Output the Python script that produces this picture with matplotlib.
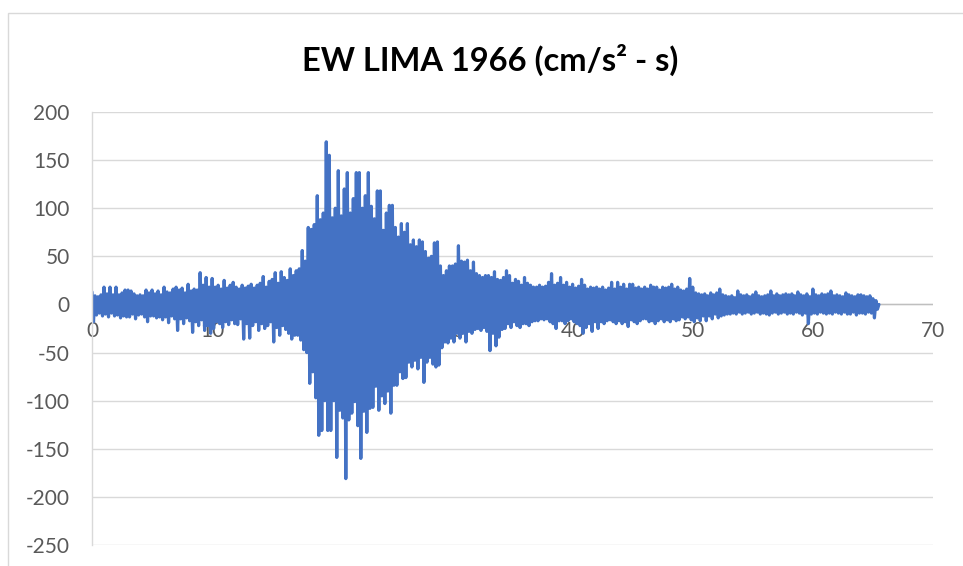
"""
plot.py - EW LIMA 1966 accelerogram (cm/s^2 vs s), Excel-style line chart
"""

import numpy as np
import matplotlib
matplotlib.use("Agg")
import matplotlib.pyplot as plt
from matplotlib.patches import Rectangle

plt.rcParams["font.family"] = ["Lato", "DejaVu Sans"]
plt.rcParams["axes.unicode_minus"] = False  # Excel uses a plain hyphen

# ── data: one row per second, peaks every 0.25 s
# positive peaks at t = s, s+0.25, s+0.5, s+0.75
acc_pos = [
    13, 9, 8, 10,      18, 11, 18, 10,     18, 10, 12, 15,     15, 14, 11, 9,
    10, 9, 15, 12,     15, 11, 14, 10,     18, 13, 12, 16,     18, 15, 17, 12,
    21, 14, 16, 15,    33, 20, 28, 18,     27, 18, 20, 16,     25, 17, 20, 23,
    18, 16, 20, 17,    19, 21, 17, 20,     22, 29, 18, 24,     26, 33, 22, 34,
    28, 25, 37, 30,    35, 37, 56, 45,     80, 78, 83, 113,    88, 95, 169, 155,
    90, 100, 139, 92,  120, 137, 95, 110,  137, 137, 100, 113, 137, 102, 89, 118,
    118, 77, 95, 103,  103, 80, 70, 84,    75, 84, 62, 67,     60, 67, 65, 55,
    48, 50, 64, 65,    40, 30, 35, 40,     40, 42, 61, 45,     44, 46, 35, 44,
    32, 30, 28, 30,    30, 28, 34, 26,     25, 28, 35, 30,     22, 26, 24, 20,
    28, 22, 20, 18,    18, 20, 18, 19,     23, 32, 20, 22,     28, 20, 23, 18,
    21, 17, 19, 26,    20, 16, 18, 17,     18, 16, 18, 15,     17, 23, 16, 23,
    18, 21, 16, 21,    21, 17, 18, 16,     18, 16, 20, 18,     18, 15, 18, 17,
    18, 21, 16, 18,    15, 14, 16, 27,     18, 12, 11, 10,     11, 9, 12, 10,
    12, 16, 10, 9,     8, 9, 7, 14,        10, 9, 10, 8,       10, 13, 9, 8,
    9, 10, 14, 9,      11, 9, 10, 11,      10, 11, 9, 13,      10, 9, 11, 8,
    16, 10, 9, 11,     10, 11, 14, 9,      10, 9, 8, 12,       10, 9, 8, 10,
    10, 9, 8, 9,       6, 4, 0,
]
# negative peaks at t = s+0.125, s+0.375, s+0.625, s+0.875
acc_neg = [
    -18, -11, -9, -12,    -10, -13, -9, -12,    -11, -14, -12, -13,   -13, -10, -15, -11,
    -10, -13, -18, -12,   -12, -14, -13, -16,   -13, -19, -12, -15,   -27, -15, -20, -14,
    -17, -29, -18, -22,   -16, -27, -22, -30,   -25, -18, -20, -24,   -18, -21, -16, -20,
    -21, -15, -36, -20,   -35, -22, -18, -27,   -20, -25, -22, -18,   -39, -24, -32, -22,
    -26, -30, -36, -32,   -32, -37, -47, -50,   -82, -70, -97, -136,  -131, -100, -131, -131,
    -100, -159, -110, -118, -181, -120, -113, -101, -126, -160, -111, -133, -108, -107, -85, -110,
    -95, -103, -90, -113, -84, -84, -70, -77,   -76, -60, -65, -58,   -67, -55, -81, -60,
    -55, -62, -65, -63,   -45, -39, -40, -35,   -39, -30, -35, -30,   -39, -28, -30, -26,
    -25, -27, -24, -28,   -48, -30, -43, -34,   -26, -25, -20, -24,   -18, -22, -24, -20,
    -20, -22, -18, -17,   -17, -15, -16, -15,   -18, -20, -25, -17,   -17, -20, -17, -15,
    -18, -20, -22, -30,   -24, -20, -28, -18,   -25, -18, -20, -17,   -16, -18, -20, -17,
    -20, -18, -23, -16,   -18, -20, -17, -15,   -15, -18, -17, -20,   -17, -15, -18, -16,
    -18, -15, -17, -16,   -13, -15, -13, -16,   -18, -14, -17, -12,   -17, -12, -15, -10,
    -14, -12, -11, -10,   -10, -9, -10, -8,     -10, -9, -8, -10,     -9, -8, -10, -9,
    -10, -11, -9, -8,     -10, -9, -8, -10,     -9, -10, -8, -9,      -11, -9, -20, -10,
    -9, -10, -8, -9,      -10, -9, -10, -8,     -9, -10, -8, -10,     -10, -8, -11, -9,
    -9, -10, -8, -9,      -14, -5,
]
dt = 0.125  # half-cycle spacing (s)

x_ticks = [0, 10, 20, 30, 40, 50, 60, 70]
y_ticks = [-250, -200, -150, -100, -50, 0, 50, 100, 150, 200]
title = "EW LIMA 1966 (cm/s² - s)"

# interleave positive / negative peaks into one trace
acc = np.empty(len(acc_pos) + len(acc_neg))
acc[0::2] = acc_pos
acc[1::2] = acc_neg
t = np.arange(len(acc)) * dt

# ── figure
W, H = 963, 566
fig = plt.figure(figsize=(W / 100, H / 100), dpi=100)
ax = fig.add_axes([92 / W, (H - 545) / H, 841 / W, 433 / H])

grid_c = "#d9d9d9"
label_c = "#595959"

ax.plot(t, acc, color="#4472c4", linewidth=2.3, zorder=2,
        solid_joinstyle="round", solid_capstyle="round")
ax.axhline(0, color="#bfbfbf", linewidth=1.0, zorder=1)

ax.set_xlim(0, 70)
ax.set_ylim(-250, 200)
ax.set_xticks(x_ticks)
ax.set_yticks(y_ticks)
ax.yaxis.grid(True, color=grid_c, linewidth=1.0, zorder=0)
ax.set_axisbelow(True)

for side in ["top", "right"]:
    ax.spines[side].set_visible(False)
ax.spines["left"].set_color(grid_c)
ax.spines["left"].set_linewidth(1.0)
# x labels sit under the zero line, as in Excel
ax.spines["bottom"].set_position(("data", 0))
ax.spines["bottom"].set_visible(False)

ax.tick_params(axis="both", length=0, labelsize=15, labelcolor=label_c)
ax.tick_params(axis="y", pad=16)
ax.tick_params(axis="x", pad=12)

fig.text(0.509, 0.894, title, ha="center", va="center",
         fontsize=23.5, fontweight="bold", color="black")

# chart area border
fig.add_artist(Rectangle((7.5 / W, -0.1), 2, 1 - 12.5 / H + 0.1,
                         fill=False, edgecolor=grid_c, linewidth=1.0,
                         transform=fig.transFigure))

fig.savefig("out.png", dpi=100)
